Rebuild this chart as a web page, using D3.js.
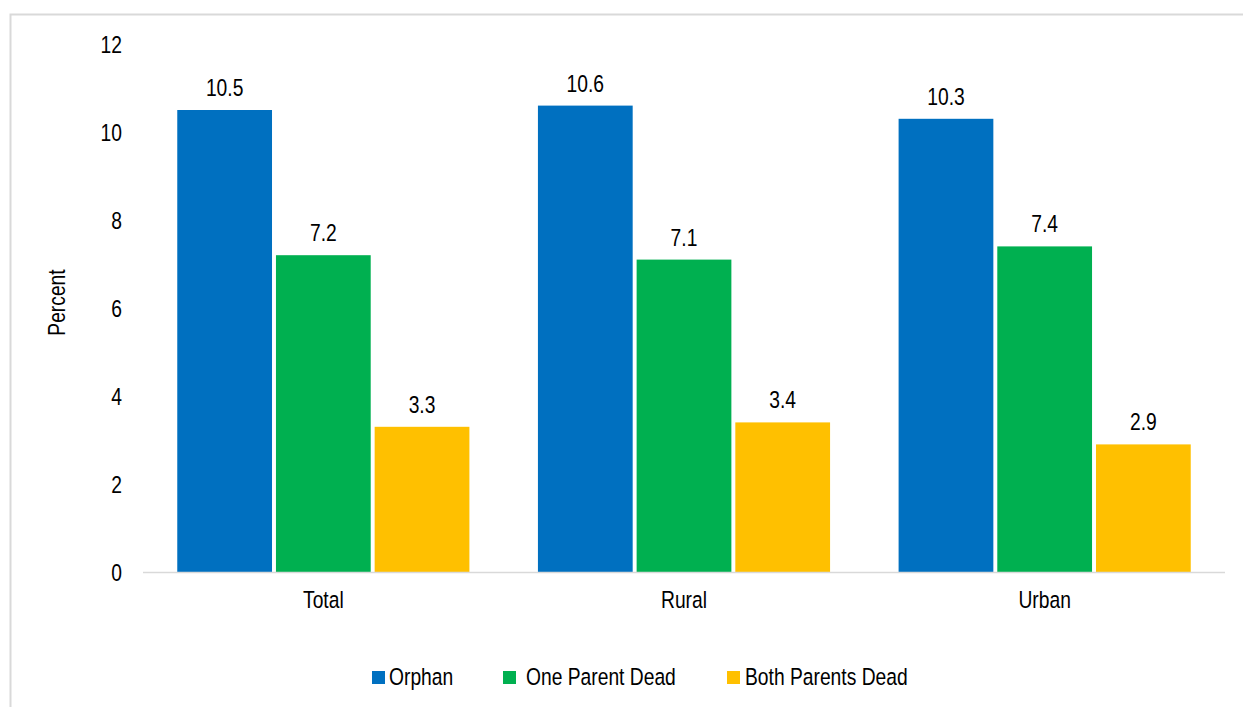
<!DOCTYPE html>
<html><head><meta charset="utf-8">
<script src="https://cdn.jsdelivr.net/npm/d3@7"></script>
<style>body{margin:0;background:#fff}svg{display:block;font-family:"Liberation Sans",Arial,sans-serif}</style>
</head><body><svg id="c" width="1243" height="707"></svg>
<script>
const categories = ["Total", "Rural", "Urban"];
const seriesNames = ["Orphan", "One Parent Dead", "Both Parents Dead"];
const orphan = [10.5, 10.6, 10.3];
const oneParentDead = [7.2, 7.1, 7.4];
const bothParentsDead = [3.3, 3.4, 2.9];
const yTicks = [0, 2, 4, 6, 8, 10, 12];
const colors = ["#0070C0", "#00B050", "#FFC000"];

const series = [orphan, oneParentDead, bothParentsDead];
const svg = d3.select("#c");
const FS = 23.5, SX = 0.82;
function label(parent, x, y, txt, anchor, rot) {
  return parent.append("text")
    .attr("transform", `translate(${x},${y})${rot ? " rotate(" + rot + ")" : ""} scale(${SX},1)`)
    .attr("text-anchor", anchor).attr("font-size", FS).attr("fill", "#000").text(txt);
}
// frame
svg.append("path").attr("d", "M10.5,707 V14.5 H1243").attr("fill","none").attr("stroke","#d9d9d9").attr("stroke-width",2);

const x0 = d3.scaleBand().domain(categories).range([143, 1225]).paddingInner(0.19).paddingOuter(0.095);
const x1 = d3.scaleBand().domain(seriesNames).range([0, x0.bandwidth()]).paddingInner(0.04);
const y = d3.scaleLinear().domain([0, 12]).range([572, 44]);

// y tick labels
const yg = svg.append("g");
yTicks.forEach(t => label(yg, 122, y(t) + 8.5, t, "end"));

// bars
categories.forEach((c, ci) => {
  series.forEach((s, si) => {
    const g = svg.append("g");
    g.append("rect").attr("x", x0(c) + x1(seriesNames[si])).attr("y", y(s[ci]))
      .attr("width", x1.bandwidth()).attr("height", y(0) - y(s[ci])).attr("fill", colors[si]);
    label(g, x0(c) + x1(seriesNames[si]) + x1.bandwidth()/2, y(s[ci]) - 14, s[ci].toFixed(1), "middle");
  });
});

// baseline
svg.append("line").attr("x1",143).attr("x2",1225).attr("y1",y(0)+0.5).attr("y2",y(0)+0.5).attr("stroke","#d9d9d9").attr("stroke-width",1.5);

// category labels
const cg = svg.append("g");
categories.forEach(c => label(cg, x0(c) + x0.bandwidth()/2, 608, c, "middle"));

// y title
label(svg, 65, 302.5, "Percent", "middle", -90);

// legend
const legX = [372, 503, 727];
const legTX = [389, 526, 745];
seriesNames.forEach((n, i) => {
  svg.append("rect").attr("x", legX[i]).attr("y", 671).attr("width", 13).attr("height", 13).attr("fill", colors[i]);
  label(svg, legTX[i], 685, n, "start");
});
</script></body></html>
